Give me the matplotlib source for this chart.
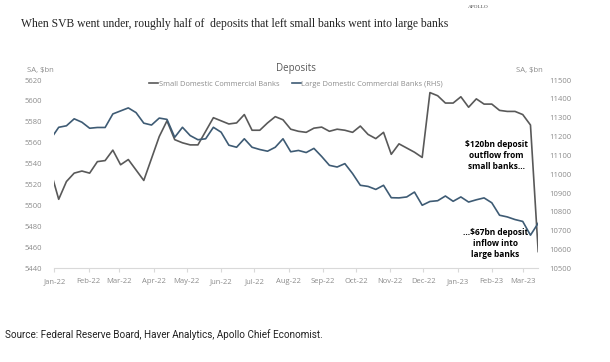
import matplotlib
matplotlib.use("Agg")
import matplotlib.pyplot as plt
import matplotlib.dates as mdates
from matplotlib.lines import Line2D
import pandas as pd

# weekly H.8 dates (Wednesdays)
dates = pd.date_range("2021-12-29", "2023-03-15", freq="7D")

small = [5532, 5506, 5523, 5531, 5533, 5531, 5542, 5543, 5553, 5539,
         5544, 5534, 5524, 5545, 5566, 5581, 5563, 5560, 5558, 5558,
         5571, 5584, 5581, 5578, 5579, 5587, 5572, 5572, 5579, 5585,
         5582, 5573, 5571, 5570, 5574, 5575, 5571, 5573, 5572, 5570,
         5576, 5568, 5564, 5570, 5549, 5559, 5555, 5551, 5546, 5608,
         5605, 5598, 5598, 5604, 5594, 5602, 5597, 5597, 5591, 5590,
         5590, 5587, 5577, 5456]
large = [11189, 11249, 11257, 11294, 11276, 11244, 11248, 11248, 11320, 11336,
         11352, 11327, 11271, 11261, 11298, 11291, 11196, 11249, 11205, 11183,
         11188, 11249, 11223, 11154, 11143, 11188, 11143, 11131, 11122, 11143,
         11188, 11119, 11126, 11115, 11137, 11094, 11047, 11038, 11056, 11003,
         10941, 10935, 10919, 10941, 10875, 10874, 10879, 10905, 10835, 10855,
         10859, 10884, 10856, 10879, 10852, 10864, 10874, 10848, 10782, 10773,
         10759, 10749, 10676, 10740]

left_ticks = list(range(5440, 5621, 20))
right_ticks = list(range(10500, 11501, 100))

c_small = "#595959"
c_large = "#3e5b74"
c_tick = "#8c8c8c"
font = "Open Sans"

fig = plt.figure(figsize=(6.1, 3.62), dpi=100)
ax = fig.add_axes([0.089, 0.2588, 0.7933, 0.5201])
ax2 = ax.twinx()

ax.plot(dates, small, color=c_small, lw=1.2)
ax2.plot(dates, large, color=c_large, lw=1.2)

ax.set_xlim(pd.Timestamp("2022-01-01"), pd.Timestamp("2023-03-15"))
ax.set_ylim(5440, 5620)
ax2.set_ylim(10500, 11500)
ax.set_yticks(left_ticks)
ax2.set_yticks(right_ticks)

ax.xaxis.set_major_locator(mdates.MonthLocator())
ax.xaxis.set_major_formatter(mdates.DateFormatter("%b-%y"))

for a in (ax, ax2):
    for s in a.spines.values():
        s.set_visible(False)
ax.spines["bottom"].set_visible(True)
ax.spines["bottom"].set_color("#d9d9d9")
ax.tick_params(axis="x", length=3, color="#d9d9d9", pad=4,
               labelsize=5.5, labelcolor=c_tick)
ax.tick_params(axis="y", length=0, pad=9, labelsize=5.5, labelcolor=c_tick)
ax2.tick_params(axis="y", length=0, pad=8, labelsize=5.5, labelcolor=c_tick)
for lab in ax.get_xticklabels() + ax.get_yticklabels() + ax2.get_yticklabels():
    lab.set_fontfamily(font)

ax.text(-0.002, 1.05, "SA, $bn", transform=ax.transAxes, ha="right",
        va="center", fontsize=5.5, color=c_tick, family=font)
ax.text(1.01, 1.05, "SA, $bn", transform=ax.transAxes, ha="right",
        va="center", fontsize=5.5, color=c_tick, family=font)
ax.text(0.5, 1.063, "Deposits", transform=ax.transAxes, ha="center",
        va="center", fontsize=7, color=c_small, family=font)

handles = [Line2D([], [], color=c_small, lw=1.2),
           Line2D([], [], color=c_large, lw=1.2)]
leg = ax.legend(handles, ["Small Domestic Commercial Banks",
                          "Large Domestic Commercial Banks (RHS)"],
                loc="center", bbox_to_anchor=(0.5, 0.979), ncol=2,
                frameon=False, handlelength=1.2, handletextpad=0.1,
                columnspacing=1.6, prop={"family": font, "size": 5.4})
for t in leg.get_texts():
    t.set_color(c_tick)

ax.text(0.914, 0.598, "$120bn deposit\noutflow from\nsmall banks...",
        transform=ax.transAxes, ha="center", va="center", fontsize=6,
        fontweight="bold", family=font, linespacing=1.25)
ax.text(0.912, 0.1306, "...$67bn deposit\ninflow into\nlarge banks",
        transform=ax.transAxes, ha="center", va="center", fontsize=6,
        fontweight="bold", family=font, linespacing=1.25)

fig.text(0.034, 0.934, "When SVB went under, roughly half of  deposits that left "
         "small banks went into large banks", ha="left", va="center",
         fontsize=8.35, family="Liberation Serif", color="#222222")
fig.text(0.784, 0.981, "APOLLO", ha="center", va="center", fontsize=3.8,
         family="Liberation Serif", color="#444444")
fig.text(0.008, 0.075, "Source: Federal Reserve Board, Haver Analytics, "
         "Apollo Chief Economist.", ha="left", va="center", fontsize=7.1,
         family="Roboto", color="#222222")

fig.savefig("out.png", dpi=100)
